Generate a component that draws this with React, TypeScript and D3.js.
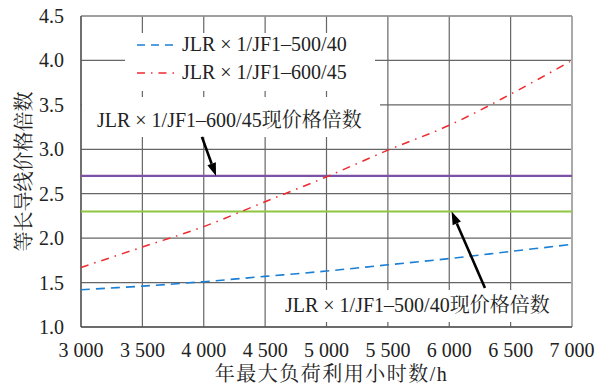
import React from "react";
import * as d3 from "d3";

const hours = [3000, 3500, 4000, 4500, 5000, 5500, 6000, 6500, 7000];
const series500 = [1.42, 1.46, 1.51, 1.57, 1.63, 1.7, 1.77, 1.85, 1.93];
const series600 = [1.67, 1.9, 2.13, 2.41, 2.69, 2.99, 3.27, 3.62, 4.0];
const price600 = 2.7;
const price500 = 2.3;
const xTicks = [3000, 3500, 4000, 4500, 5000, 5500, 6000, 6500, 7000];
const yTicks = [1.0, 1.5, 2.0, 2.5, 3.0, 3.5, 4.0, 4.5];
const legendLabels = ["JLR × 1/JF1–500/40", "JLR × 1/JF1–600/45"];
const note600 = "JLR × 1/JF1–600/45现价格倍数";
const note500 = "JLR × 1/JF1–500/40现价格倍数";
const xTitle = "年最大负荷利用小时数/h";
const yTitle = "等长导线价格倍数";

const W = 599, H = 389;
const L = 81, R = 572, T = 16, B = 327;
const LATF = "Times New Roman";
const CJKF = "Noto Serif CJK SC";

function runs(s: string) {
  const out: { t: string; cjk: boolean }[] = [];
  for (const ch of s) {
    const c = /[\u3000-\u9fff]/.test(ch);
    if (out.length && out[out.length - 1].cjk === c) out[out.length - 1].t += ch;
    else out.push({ t: ch, cjk: c });
  }
  return out;
}

function MixText(props: any) {
  const { children, ...rest } = props;
  return (
    <text {...rest} fontFamily={LATF} style={{ fontFamily: `"${LATF}"` }}>
      {runs(String(children)).map((r, i) =>
        r.cjk ? (
          <tspan key={i} fontFamily={CJKF} style={{ fontFamily: `"${CJKF}"` }}>{r.t}</tspan>
        ) : (
          <tspan key={i} fontFamily={LATF} style={{ fontFamily: `"${LATF}"` }}>{r.t}</tspan>
        )
      )}
    </text>
  );
}

export default function App() {
  const x = d3.scaleLinear().domain([3000, 7000]).range([L, R]);
  const y = d3.scaleLinear().domain([1, 4.5]).range([B, T]);
  const line = d3
    .line<number>()
    .x((_, i) => x(hours[i]))
    .y((d) => y(d))
    .curve(d3.curveCatmullRom);
  const fmtX = (v: number) => `${Math.floor(v / 1000)} ${String(v % 1000).padStart(3, "0")}`;
  const fmtY = d3.format(".1f");
  const grid = "#666";
  const txt = "#222";

  const arrow = (x1: number, y1: number, x2: number, y2: number) => {
    const ang = Math.atan2(y2 - y1, x2 - x1);
    const len = 13, half = 4.5;
    const bx = x2 - len * Math.cos(ang), by = y2 - len * Math.sin(ang);
    const p1 = [bx + half * Math.sin(ang), by - half * Math.cos(ang)];
    const p2 = [bx - half * Math.sin(ang), by + half * Math.cos(ang)];
    return (
      <g>
        <line x1={x1} y1={y1} x2={bx} y2={by} stroke="#000" strokeWidth={2.6} />
        <polygon points={`${x2},${y2} ${p1[0]},${p1[1]} ${p2[0]},${p2[1]}`} fill="#000" />
      </g>
    );
  };

  return (
    <svg width={W} height={H} style={{ position: "absolute", left: 0, top: 0 }}>
      <style>{`text, tspan { font-family: "${LATF}", "${CJKF}"; }`}</style>
      <rect x={0} y={0} width={W} height={H} fill="#fff" />
      {xTicks.map((t) => (
        <line key={"gx" + t} x1={x(t)} x2={x(t)} y1={T} y2={B} stroke={grid} strokeWidth={1.2} />
      ))}
      {yTicks.map((t) => (
        <line key={"gy" + t} x1={L} x2={R} y1={y(t)} y2={y(t)} stroke={grid} strokeWidth={1.2} />
      ))}
      <line x1={R} x2={R} y1={T} y2={B} stroke="#aaa" strokeWidth={2} />
      <line x1={L} x2={R} y1={T} y2={T} stroke="#999" strokeWidth={1.5} />
      <line x1={L} x2={L} y1={T} y2={B} stroke="#555" strokeWidth={1.3} />
      <line x1={L} x2={R} y1={B} y2={B} stroke="#555" strokeWidth={1.3} />

      <rect x={125} y={33} width={250} height={58} fill="#fff" />
      <rect x={82} y={97} width={298} height={40} fill="#fff" />
      <rect x={276} y={290} width={295} height={32} fill="#fff" />

      <line x1={L} x2={R} y1={y(price600)} y2={y(price600)} stroke="#7b52a6" strokeWidth={2.2} />
      <line x1={L} x2={R} y1={y(price500)} y2={y(price500)} stroke="#8dc63f" strokeWidth={2.2} />

      <path d={line(series500) || ""} fill="none" stroke="#1b7fd4" strokeWidth={1.6} strokeDasharray="9,6" />
      <path d={line(series600) || ""} fill="none" stroke="#ee2a2e" strokeWidth={1.5} strokeDasharray="8,6,1.5,6" />

      <line x1={137} x2={176} y1={45} y2={45} stroke="#1b7fd4" strokeWidth={1.6} strokeDasharray="8,6" />
      <line x1={137} x2={176} y1={73} y2={73} stroke="#ee2a2e" strokeWidth={1.5} strokeDasharray="8,6,1.5,6" />
      <MixText x={182} y={51} fontSize={20} fill={txt}>{legendLabels[0]}</MixText>
      <MixText x={182} y={79} fontSize={20} fill={txt}>{legendLabels[1]}</MixText>

      <MixText x={97} y={127} fontSize={20} fill={txt}>{note600}</MixText>
      <MixText x={285} y={312} fontSize={20} fill={txt}>{note500}</MixText>
      {arrow(x(3985), y(3.14), x(4100), y(price600))}
      {arrow(x(6291), y(1.44), x(6019), y(price500))}

      {yTicks.map((t) => (
        <MixText key={"ty" + t} x={64} y={y(t)} dy="0.35em" textAnchor="end" fontSize={20} fill={txt}>
          {fmtY(t)}
        </MixText>
      ))}
      {xTicks.map((t) => (
        <MixText key={"tx" + t} x={x(t)} y={357} textAnchor="middle" fontSize={20} fill={txt}>
          {fmtX(t)}
        </MixText>
      ))}
      <MixText x={(L + R) / 2 + 5} y={381} textAnchor="middle" fontSize={20} fill={txt} letterSpacing={1.5}>{xTitle}</MixText>
      <MixText transform={`translate(31, ${(T + B) / 2}) rotate(-90)`} textAnchor="middle" fontSize={20} fill={txt}>
        {yTitle}
      </MixText>
    </svg>
  );
}
